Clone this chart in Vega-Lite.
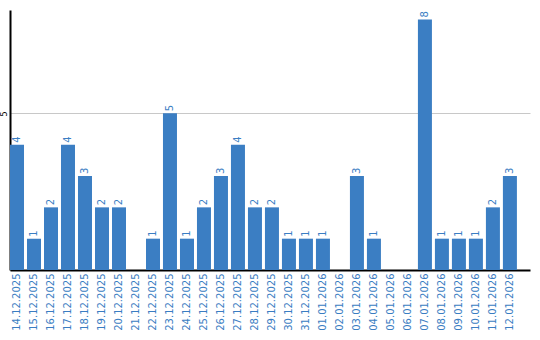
{
  "$schema": "https://vega.github.io/schema/vega-lite/v6.json",
  "autosize": "none",
  "width": 520,
  "height": 260,
  "padding": {"left": 10, "top": 10, "right": 10, "bottom": 70},
  "background": "white",
  "config": {"view": {"stroke": null}, "font": "DejaVu Sans"},
  "data": {"values": [
    {"date": "14.12.2025", "count": 4},
    {"date": "15.12.2025", "count": 1},
    {"date": "16.12.2025", "count": 2},
    {"date": "17.12.2025", "count": 4},
    {"date": "18.12.2025", "count": 3},
    {"date": "19.12.2025", "count": 2},
    {"date": "20.12.2025", "count": 2},
    {"date": "21.12.2025", "count": 0},
    {"date": "22.12.2025", "count": 1},
    {"date": "23.12.2025", "count": 5},
    {"date": "24.12.2025", "count": 1},
    {"date": "25.12.2025", "count": 2},
    {"date": "26.12.2025", "count": 3},
    {"date": "27.12.2025", "count": 4},
    {"date": "28.12.2025", "count": 2},
    {"date": "29.12.2025", "count": 2},
    {"date": "30.12.2025", "count": 1},
    {"date": "31.12.2025", "count": 1},
    {"date": "01.01.2026", "count": 1},
    {"date": "02.01.2026", "count": 0},
    {"date": "03.01.2026", "count": 3},
    {"date": "04.01.2026", "count": 1},
    {"date": "05.01.2026", "count": 0},
    {"date": "06.01.2026", "count": 0},
    {"date": "07.01.2026", "count": 8},
    {"date": "08.01.2026", "count": 1},
    {"date": "09.01.2026", "count": 1},
    {"date": "10.01.2026", "count": 1},
    {"date": "11.01.2026", "count": 2},
    {"date": "12.01.2026", "count": 3}
  ]},
  "encoding": {
    "x": {
      "field": "date", "type": "nominal", "sort": null,
      "scale": {"paddingInner": 0.176, "paddingOuter": 0.385, "align": 0},
      "axis": {
        "title": null, "labelAngle": -90, "labelColor": "#3a7dc2", "labelFontSize": 10,
        "ticks": false, "labelPadding": 3, "domainColor": "#000000", "domainWidth": 2
      }
    },
    "y": {
      "field": "count", "type": "quantitative",
      "scale": {"domain": [0, 8.3], "nice": false},
      "axis": {
        "title": null, "values": [5], "ticks": false, "labelAngle": -90, "labelFontSize": 8,
        "labelColor": "#000000", "labelPadding": 2, "domainColor": "#000000", "domainWidth": 2,
        "gridColor": "#c8c8c8", "gridWidth": 1
      }
    }
  },
  "layer": [
    {"mark": {"type": "bar", "color": "#3b7ec3"}},
    {
      "transform": [{"filter": "datum.count > 0"}],
      "mark": {"type": "text", "angle": 270, "align": "left", "baseline": "middle", "dx": 2, "color": "#3b7ec3", "fontSize": 10},
      "encoding": {"text": {"field": "count", "type": "quantitative"}}
    }
  ]
}
